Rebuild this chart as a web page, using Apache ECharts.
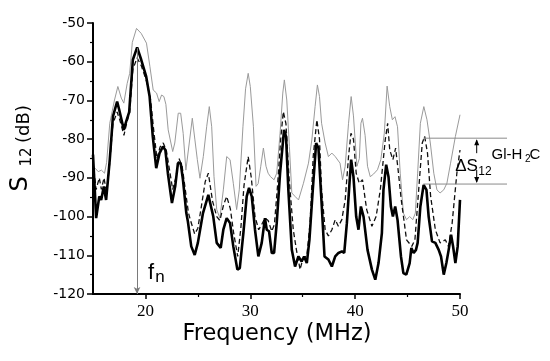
<!DOCTYPE html>
<html><head><meta charset="utf-8">
<script src="https://cdn.jsdelivr.net/npm/echarts@6/dist/echarts.min.js"></script>
<style>html,body{margin:0;padding:0;background:#fff}#c{width:550px;height:361px}</style>
</head><body><div id="c"></div>
<script>
// ---- data ----
const xMajorTicks = [20, 30, 40, 50];
const xMinorTicks = [25, 35, 45];
const yRange = [-120, -50];

const freqGray = [15.0,15.2,15.5,15.8,16.1,16.3,16.6,17.05,17.37,17.7,17.94,18.26,18.5,18.75,19.15,19.6,20.1,20.43,20.74,21.06,21.31,21.54,21.76,21.95,22.17,22.6,22.8,23.13,23.36,23.6,23.86,24.18,24.47,24.72,24.95,25.2,25.52,25.84,26.09,26.32,26.54,26.8,27.1,27.43,27.75,28.07,28.38,28.7,28.95,29.3,29.55,29.8,30.0,30.3,30.55,30.75,31.0,31.25,31.5,31.7,31.93,32.27,32.52,32.84,33.1,33.25,33.48,33.73,33.96,34.27,34.6,35.07,35.55,35.87,36.18,36.4,36.6,36.8,37.14,37.45,37.78,38.1,38.56,38.8,39.05,39.37,39.62,39.84,40.17,40.4,40.55,40.7,40.95,41.18,41.44,41.76,42.13,42.45,42.78,43.05,43.3,43.55,43.8,44.04,44.3,44.6,44.9,45.2,45.5,45.74,45.96,46.22,46.55,46.85,47.17,47.5,47.8,48.1,48.45,48.75,49.1,49.56,50.0];
const s12Gray = [-87,-87.5,-88.4,-88,-88.8,-86,-75.9,-69.9,-66.4,-69.4,-70.7,-65.6,-63,-55,-51.4,-52.7,-55.2,-61.3,-67.3,-68.1,-70.3,-68.6,-69,-71,-77.6,-83.2,-81,-73.3,-73.3,-78.5,-88,-81,-74.6,-80.2,-85.3,-90.1,-84.5,-76.8,-71.6,-76.8,-89.7,-98.2,-100.4,-93.1,-84.5,-85.3,-91.4,-98.2,-93.1,-76.8,-67,-63,-66.4,-76.8,-92.2,-91.5,-87,-82.3,-87,-88.8,-89.7,-90.5,-88.8,-78.5,-68.1,-64.7,-69.9,-81.9,-93.9,-94.8,-95.7,-91.4,-86.2,-80.2,-71.6,-66,-69,-75.9,-81,-84.5,-83.6,-84.5,-86.2,-90.5,-87,-75.9,-69,-74,-87,-85,-75.9,-74.6,-79,-87,-89.7,-89,-87.9,-85.3,-78.5,-66.3,-71.6,-75,-74.2,-76.8,-88.8,-99.1,-100.8,-100,-100.8,-99.1,-88.8,-75.9,-71.6,-75,-81,-88.8,-93.1,-93.9,-93.1,-91.4,-86.2,-79.3,-73.7];

const freqDashed = [15.0,15.3,15.6,15.8,16.05,16.3,16.6,16.9,17.3,17.55,17.95,18.2,18.5,18.8,19.2,19.6,20.1,20.5,20.8,21.1,21.4,21.7,22.0,22.3,22.6,22.9,23.2,23.5,23.8,24.1,24.3,24.7,25.0,25.3,25.7,26.0,26.4,26.8,27.1,27.45,27.75,28.1,28.4,28.8,29.1,29.4,29.8,30.1,30.45,30.8,31.1,31.4,31.7,32.05,32.3,32.6,32.9,33.15,33.4,33.7,34.1,34.4,34.75,35.0,35.4,35.7,36.0,36.35,36.6,36.8,37.14,37.45,37.78,38.1,38.4,38.73,39.05,39.37,39.6,39.84,40.1,40.4,40.7,41.1,41.6,42.0,42.4,42.87,43.1,43.3,43.6,43.86,44.1,44.4,44.9,45.4,45.7,46.06,46.4,46.63,46.9,47.2,47.65,48.1,48.6,48.9,49.25,49.7,50.0];
const s12Dashed = [-86,-93,-90,-93,-90,-94,-86,-76,-73,-75,-79,-76,-73,-62,-59,-61,-65,-70,-78,-85,-82,-81,-83,-88,-93,-90,-85,-87,-93,-99,-101,-104.5,-103,-98,-91,-88.8,-96,-100,-101,-97,-94.8,-98,-104,-110.3,-103,-92,-84.5,-90,-100,-103.4,-102,-100.4,-101,-103.8,-102,-92,-80,-72.9,-76,-90,-103.4,-108.6,-113.7,-111,-110,-101.7,-84.5,-75,-80,-93.1,-103.4,-105,-103.4,-100.8,-102.5,-100.8,-95.7,-84.5,-78.5,-80,-88.8,-91.4,-90.5,-98.2,-102.5,-100,-93.1,-80.2,-75.9,-82.8,-85.3,-82.3,-88,-95.7,-106,-107.7,-106,-93.1,-81,-79.3,-83.6,-94.8,-103.4,-106.8,-106,-107.7,-101.7,-88.8,-82.8];

const freqBold = [15.0,15.15,15.3,15.6,15.78,16.03,16.25,16.6,16.9,17.3,17.5,17.94,18.16,18.45,18.8,19.21,19.6,20.07,20.4,20.7,21.03,21.35,21.67,21.9,22.14,22.53,22.84,23.1,23.36,23.58,23.9,24.05,24.37,24.7,25.0,25.49,26.0,26.47,26.8,27.18,27.43,27.75,28.07,28.38,28.77,29.0,29.34,29.66,29.88,30.14,30.45,30.77,30.93,31.09,31.4,31.57,31.79,32.05,32.27,32.52,32.84,33.22,33.41,33.63,33.96,34.27,34.59,34.9,35.13,35.39,35.64,35.96,36.28,36.5,36.82,37.08,37.45,37.78,38.1,38.41,38.74,38.96,39.21,39.46,39.62,39.84,40.1,40.32,40.55,40.8,41.18,41.6,41.92,42.23,42.55,42.7,42.96,43.18,43.41,43.6,43.82,44.04,44.37,44.6,44.88,45.2,45.36,45.58,45.8,45.96,46.22,46.53,46.8,47.01,47.33,47.65,47.97,48.19,48.45,48.7,48.92,49.15,49.34,49.56,49.78,50.0];
const s12Bold = [-84,-92,-100.4,-94.8,-95.7,-92.2,-95.7,-85.3,-74.2,-70.3,-72.4,-77.6,-75.5,-73,-59.5,-56.3,-59.5,-63.8,-69,-79.3,-87.5,-83.6,-81.9,-82.8,-88.8,-96.5,-92.2,-86.2,-86.2,-90.5,-99.1,-101.3,-107.7,-109.9,-106.8,-99.1,-94.4,-100,-106.8,-108.1,-103.4,-100.4,-101.7,-107.7,-113.7,-113.3,-104.3,-94.8,-92.6,-94.8,-103.4,-110.3,-110.7,-106.8,-100.4,-103.4,-103.8,-109.4,-109.4,-101.7,-88.8,-77.6,-79.3,-93.1,-108.6,-112.9,-110.3,-111.6,-110.3,-112,-106,-93.1,-81,-82.3,-97.4,-110.3,-111.1,-112.9,-110.3,-109.4,-109,-109.4,-101.7,-91.4,-85.3,-89.7,-100,-103.4,-97.4,-100,-108.6,-113.7,-116.3,-112,-104.3,-93.1,-86.6,-89.7,-97.4,-100,-97.4,-100.8,-110.3,-114.6,-115,-112,-108.1,-109.4,-108.6,-106.8,-97.4,-91.8,-93.1,-100,-106.4,-106.8,-108.6,-110.3,-115,-112,-108.6,-104.7,-107.7,-112,-107.7,-95.7];

const fnFreq = 19.2;           // resonance marker
const deltaTop = -79.75;       // ΔS12 upper level
const deltaBottom = -91.6;     // ΔS12 lower level

const pairs = (xs, ys) => xs.map((x, i) => [x, ys[i]]);
const SERIF = "'Liberation Serif', 'Times New Roman', serif";
const SANS = "'Liberation Sans', Arial, sans-serif";

const chart = echarts.init(document.getElementById('c'), null, {renderer: 'canvas'});
const axisCommon = {
  type: 'value', splitLine: {show: false}, minorSplitLine: {show: false}
};
chart.setOption({
  animation: false,
  backgroundColor: '#fff',
  grid: {left: 93, right: 90, top: 23, bottom: 67, containLabel: false},
  xAxis: [
    Object.assign({}, axisCommon, {
      min: 15, max: 50, position: 'bottom',
      axisLine: {show: true, onZero: false, lineStyle: {color: '#000', width: 2}},
      axisTick: {show: true, customValues: xMajorTicks, length: 5, lineStyle: {color: '#000', width: 1.5}},
      axisLabel: {show: true, customValues: xMajorTicks, margin: 9, color: '#000',
        fontFamily: SERIF, fontSize: 17}
    }),
    Object.assign({}, axisCommon, {
      min: 15, max: 50, position: 'bottom',
      axisLine: {show: false, onZero: false},
      axisTick: {show: true, customValues: xMinorTicks, length: 3, lineStyle: {color: '#000', width: 1.2}},
      axisLabel: {show: false}
    })
  ],
  yAxis: Object.assign({}, axisCommon, {
    min: yRange[0], max: yRange[1], interval: 10,
    axisLine: {show: true, onZero: false, lineStyle: {color: '#000', width: 2}},
    axisTick: {show: true, length: 6, lineStyle: {color: '#000', width: 1.5}},
    minorTick: {show: true, splitNumber: 2, length: 3, lineStyle: {color: '#000', width: 1.2}},
    axisLabel: {margin: 8, color: '#000', fontFamily: 'DejaVu Sans', fontSize: 14}
  }),
  series: [
    {type: 'line', name: 'gray', data: pairs(freqGray, s12Gray), showSymbol: false, symbol: 'none',
      lineStyle: {color: '#9a9a9a', width: 1}, z: 2},
    {type: 'line', name: 'dashed', data: pairs(freqDashed, s12Dashed), showSymbol: false, symbol: 'none',
      lineStyle: {color: '#111', width: 1.3, type: [5, 3]}, z: 3},
    {type: 'line', name: 'bold', data: pairs(freqBold, s12Bold), showSymbol: false, symbol: 'none',
      lineStyle: {color: '#000', width: 2.6}, z: 4,
      markLine: {silent: true, symbol: ['none', 'arrow'], symbolSize: [5, 7], label: {show: false},
        lineStyle: {color: '#7a7a7a', width: 1, type: 'solid'},
        data: [[{coord: [fnFreq, -56.5]}, {coord: [fnFreq, yRange[0]]}]]}
    }
  ]
});

const P = (x, y) => chart.convertToPixel({xAxisIndex: 0, yAxisIndex: 0}, [x, y]);
const yT = P(46.5, deltaTop), yB = P(46.5, deltaBottom);
const xEnd = 507, xArrow = 476.7;
const lineCol = '#8a8a8a';
const txt = (x, y, text, size, family, opts) => Object.assign({
  type: 'text', x: x, y: y, z: 50,
  style: Object.assign({text: text, fontSize: size, fontFamily: family, fill: '#000',
    align: 'center', verticalAlign: 'middle'}, (opts && opts.style) || {})
}, opts && opts.rotation ? {rotation: opts.rotation} : {});

chart.setOption({
  graphic: [
    // ΔS12 levels
    {type: 'line', z: 40, shape: {x1: yT[0], y1: yT[1], x2: xEnd, y2: yT[1]}, style: {stroke: lineCol, lineWidth: 1}},
    {type: 'line', z: 40, shape: {x1: yB[0], y1: yB[1], x2: xEnd, y2: yB[1]}, style: {stroke: lineCol, lineWidth: 1}},
    {type: 'line', z: 40, shape: {x1: xArrow, y1: yT[1] + 2, x2: xArrow, y2: yT[1] + 15}, style: {stroke: '#000', lineWidth: 1}},
    {type: 'polygon', z: 40, shape: {points: [[xArrow, yT[1] + 1], [xArrow - 2.5, yT[1] + 7], [xArrow + 2.5, yT[1] + 7]]}, style: {fill: '#000'}},
    {type: 'line', z: 40, shape: {x1: xArrow, y1: yB[1] - 14, x2: xArrow, y2: yB[1] - 2}, style: {stroke: '#000', lineWidth: 1}},
    {type: 'polygon', z: 40, shape: {points: [[xArrow, yB[1] - 1], [xArrow - 2.5, yB[1] - 7], [xArrow + 2.5, yB[1] - 7]]}, style: {fill: '#000'}},
    txt(466.5, 166, 'ΔS', 17, SANS),
    txt(485, 172, '12', 12, SANS),
    txt(491.5, 155, 'Gl-H', 15, SANS, {style: {align: 'left'}}),
    txt(525, 159.5, '2', 10, SANS, {style: {align: 'left'}}),
    txt(529.5, 155, 'C', 15, SANS, {style: {align: 'left'}}),
    // f_n
    txt(151, 273, 'f', 22, SANS),
    txt(160, 277.5, 'n', 17, SANS),
    // axis titles
    txt(277, 334, 'Frequency (MHz)', 22.5, 'DejaVu Sans'),
    txt(21, 184, 'S', 24, 'DejaVu Sans', {rotation: Math.PI / 2}),
    txt(27, 157, '12', 15, 'DejaVu Sans', {rotation: Math.PI / 2}),
    txt(24, 124, '(dB)', 18, 'DejaVu Sans', {rotation: Math.PI / 2})
  ]
});
</script>
</body></html>
